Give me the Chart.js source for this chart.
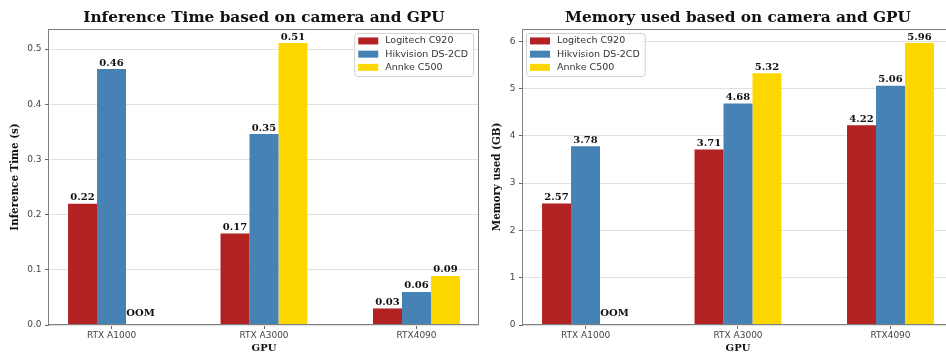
<!DOCTYPE html>
<html>
<head>
<meta charset="utf-8">
<script src="https://cdn.jsdelivr.net/npm/chart.js@4.4.1/dist/chart.umd.min.js"></script>
<style>
  html, body { margin: 0; padding: 0; background: #fff; }
  #wrap { position: relative; width: 946px; height: 354px; overflow: hidden; }
  #c1 { position: absolute; left: 0; top: 0; }
  #c2 { position: absolute; left: 482px; top: 0; }
</style>
</head>
<body>
<div id="wrap">
  <canvas id="c1" width="482" height="354"></canvas>
  <canvas id="c2" width="482" height="354"></canvas>
</div>
<script>
const gpus = ['RTX A1000', 'RTX A3000', 'RTX4090'];
const cameras = ['Logitech C920', 'Hikvision DS-2CD', 'Annke C500'];
const colors = ['#b22222', '#4682b4', '#ffd700'];

// inference time in seconds, null = OOM
const infLogitech = [0.22, 0.166, 0.03];
const infHikvision = [0.464, 0.346, 0.06];
const infAnnke = [null, 0.511, 0.089];
const infTicks = [0, 0.1, 0.2, 0.3, 0.4, 0.5];

// memory used in GB, null = OOM
const memLogitech = [2.57, 3.71, 4.22];
const memHikvision = [3.78, 4.68, 5.06];
const memAnnke = [null, 5.32, 5.96];
const memTicks = [0, 1, 2, 3, 4, 5, 6];

const serif = '"DejaVu Serif", serif';
const sans = '"DejaVu Sans", sans-serif';

// axes box like matplotlib spines
const framePlugin = {
    id: 'frame',
    afterDatasetsDraw(chart){
        const a = chart.chartArea;
        const ctx = chart.ctx;
        ctx.save();
        ctx.strokeStyle = '#808080';
        ctx.lineWidth = 1;
        ctx.strokeRect(Math.round(a.left) - 0.5, Math.round(a.top) + 0.5,
            Math.round(a.right - a.left), Math.round(a.bottom - a.top) - 1);
        ctx.restore();
    }
};

// numbers above bars, OOM where there is no bar
const valuePlugin = {
    id: 'values',
    afterDatasetsDraw(chart){
        const ctx = chart.ctx;
        const y0 = chart.scales.y.getPixelForValue(0);
        ctx.save();
        ctx.font = 'bold 10px ' + serif;
        ctx.fillStyle = '#111';
        ctx.textAlign = 'center';
        ctx.textBaseline = 'middle';
        chart.data.datasets.forEach((ds, di) => {
            const meta = chart.getDatasetMeta(di);
            meta.data.forEach((bar, i) => {
                const v = ds.data[i].y;
                if(v == null){
                    ctx.fillText('OOM', bar.x, y0 - 12);
                } else {
                    ctx.fillText(v.toFixed(2), bar.x, bar.y - 6);
                }
            });
        });
        ctx.restore();
    }
};

const legendPlugin = {
    id: 'boxLegend',
    afterDatasetsDraw(chart, args, opts){
        const ctx = chart.ctx;
        const a = chart.chartArea;
        const ds = chart.data.datasets;
        ctx.save();
        ctx.font = '9.5px ' + sans;
        const tw = Math.max(...ds.map(d => ctx.measureText(d.label).width));
        const w = tw + 36, h = 43;
        const x = opts.side === 'right' ? a.right - 6 - w : a.left + 3;
        const y = a.top + 4;
        ctx.beginPath();
        ctx.roundRect(x + 0.5, y + 0.5, w, h, 3);
        ctx.fillStyle = 'rgba(255,255,255,0.85)';
        ctx.fill();
        ctx.strokeStyle = '#d0d0d0';
        ctx.stroke();
        ctx.textBaseline = 'middle';
        ds.forEach((d, i) => {
            const ry = y + 8 + i * 13.2;
            ctx.fillStyle = d.backgroundColor;
            ctx.fillRect(x + 4, ry - 3.5, 20, 7);
            ctx.fillStyle = '#333';
            ctx.fillText(d.label, x + 31, ry);
        });
        ctx.restore();
    }
};

function makeChart(id, title, ylabel, series, yTicks, yMax, yFmt, legendSide, yWidth, padRight){
    const datasets = series.map((arr, k) => ({
        label: cameras[k],
        backgroundColor: colors[k],
        borderWidth: 0,
        data: arr.map((v, i) => ({x: i, y: v}))
    }));
    return new Chart(document.getElementById(id), {
        type: 'bar',
        data: {datasets: datasets},
        plugins: [framePlugin, valuePlugin, legendPlugin],
        options: {
            responsive: false,
            animation: false,
            devicePixelRatio: 1,
            categoryPercentage: 0.57,
            barPercentage: 1.0,
            layout: {padding: {left: 0, right: padRight, top: 0, bottom: 0}},
            plugins: {
                legend: {display: false},
                tooltip: {enabled: false},
                boxLegend: {side: legendSide},
                title: {
                    display: true,
                    text: title,
                    fullSize: false,
                    color: '#111',
                    font: {family: serif, size: 15.3, weight: 'bold', lineHeight: 1.2},
                    padding: {top: 8.8, bottom: 1.8}
                }
            },
            scales: {
                x: {
                    type: 'linear',
                    min: -0.41,
                    max: 2.41,
                    offset: false,
                    afterBuildTicks: s => { s.ticks = gpus.map((g, i) => ({value: i})); },
                    afterFit: s => { s.height = 29; },
                    grid: {offset: false, drawOnChartArea: false, drawTicks: true,
                           tickLength: 4, tickColor: '#666', color: '#666'},
                    border: {display: false},
                    ticks: {
                        callback: v => gpus[v],
                        color: '#444',
                        padding: 1,
                        maxRotation: 0,
                        font: {family: sans, size: 9}
                    },
                    title: {
                        display: true,
                        text: 'GPU',
                        color: '#111',
                        padding: {top: 0, bottom: 0},
                        font: {family: serif, size: 10, weight: 'bold', lineHeight: 1.2}
                    }
                },
                y: {
                    min: 0,
                    max: yMax,
                    afterBuildTicks: s => { s.ticks = yTicks.map(v => ({value: v})); },
                    afterFit: s => { s.width = yWidth; },
                    grid: {color: '#e0e0e0', tickColor: '#666', tickLength: 4, lineWidth: 1},
                    border: {display: false},
                    ticks: {
                        callback: yFmt,
                        color: '#444',
                        padding: 3.5,
                        font: {family: sans, size: 9}
                    },
                    title: {
                        display: true,
                        text: ylabel,
                        color: '#111',
                        padding: {top: 9, bottom: 0},
                        font: {family: serif, size: 10.3, weight: 'bold', lineHeight: 1.2}
                    }
                }
            }
        }
    });
}

makeChart('c1', 'Inference Time based on camera and GPU', 'Inference Time (s)',
    [infLogitech, infHikvision, infAnnke], infTicks, 0.5366, v => v.toFixed(1), 'right', 49, 3);

makeChart('c2', 'Memory used based on camera and GPU', 'Memory used (GB)',
    [memLogitech, memHikvision, memAnnke], memTicks, 6.258, v => String(v), 'left', 41, 11);
</script>
</body>
</html>
